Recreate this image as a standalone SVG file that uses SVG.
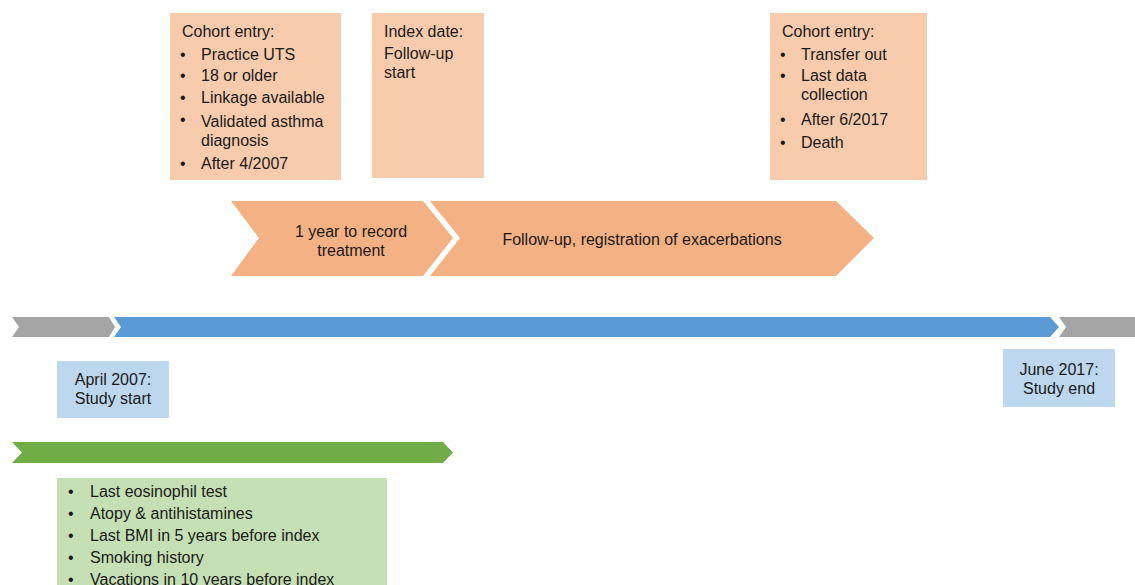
<svg xmlns="http://www.w3.org/2000/svg" width="1135" height="585" viewBox="0 0 1135 585">
<style>
text{font-family:"Liberation Sans",Arial,sans-serif;font-size:16px;fill:#1a1a1a}
.peach{fill:#F8CBAD}
.chev{fill:#F4B183}
.lb{fill:#BDD7EE}
.mid{text-anchor:middle}
</style>
<rect width="1135" height="585" fill="#fff"/>
<g id="cohort-entry">
<rect class="peach" x="170" y="13" width="171" height="167"/>
<text x="182" y="37">Cohort entry:</text>
<text x="180" y="60">•</text><text x="201" y="60">Practice UTS</text>
<text x="180" y="81">•</text><text x="201" y="81">18 or older</text>
<text x="180" y="103">•</text><text x="201" y="103">Linkage available</text>
<text x="180" y="125">•</text><text x="201" y="127">Validated asthma</text>
<text x="201" y="146">diagnosis</text>
<text x="180" y="169">•</text><text x="201" y="169">After 4/2007</text>
</g>
<g id="index-date">
<rect class="peach" x="372" y="13" width="112" height="165"/>
<text x="384" y="37">Index date:</text>
<text x="384" y="59">Follow-up</text>
<text x="384" y="78">start</text>
</g>
<g id="cohort-exit">
<rect class="peach" x="770" y="13" width="157" height="167"/>
<text x="782" y="37">Cohort entry:</text>
<text x="780" y="60">•</text><text x="801" y="60">Transfer out</text>
<text x="780" y="81">•</text><text x="801" y="81">Last data</text>
<text x="801" y="100">collection</text>
<text x="780" y="125">•</text><text x="801" y="125">After 6/2017</text>
<text x="780" y="148">•</text><text x="801" y="148">Death</text>
</g>
<g id="chevron-treatment">
<polygon class="chev" points="231,201 423,201 453,238 423,276 231,276 259,238"/>
<text class="mid" x="351" y="237">1 year to record</text>
<text class="mid" x="351" y="256">treatment</text>
</g>
<g id="chevron-followup">
<polygon class="chev" points="430,201 836,201 874,238 836,276 430,276 460,238"/>
<text class="mid" x="642" y="245">Follow-up, registration of exacerbations</text>
</g>
<g id="connectors">
<polygon fill="#A5A5A5" points="12,317 109,317 115,327 109,337 12,337 19,327"/>
<polygon fill="#5B9BD5" points="114,317 1050,317 1059,327 1050,337 114,337 121,327"/>
<polygon fill="#A5A5A5" points="1059,317 1135,317 1135,337 1059,337 1066,327"/>
<polygon fill="#70AD47" points="12,442 443,442 453,452.5 443,463 12,463 22,452.5"/>
</g>
<g id="study-start">
<rect class="lb" x="57" y="361" width="112" height="57"/>
<text class="mid" x="113" y="385">April 2007:</text>
<text class="mid" x="113" y="404">Study start</text>
</g>
<g id="study-end">
<rect class="lb" x="1003" y="349" width="112" height="58"/>
<text class="mid" x="1059" y="375">June 2017:</text>
<text class="mid" x="1059" y="394">Study end</text>
</g>
<g id="covariates">
<rect fill="#C5E0B4" x="57" y="478" width="330" height="107"/>
<text x="68" y="497">•</text><text x="90" y="497">Last eosinophil test</text>
<text x="68" y="519">•</text><text x="90" y="519">Atopy &amp; antihistamines</text>
<text x="68" y="541">•</text><text x="90" y="541">Last BMI in 5 years before index</text>
<text x="68" y="563">•</text><text x="90" y="563">Smoking history</text>
<text x="68" y="585">•</text><text x="90" y="585">Vacations in 10 years before index</text>
</g>
</svg>
